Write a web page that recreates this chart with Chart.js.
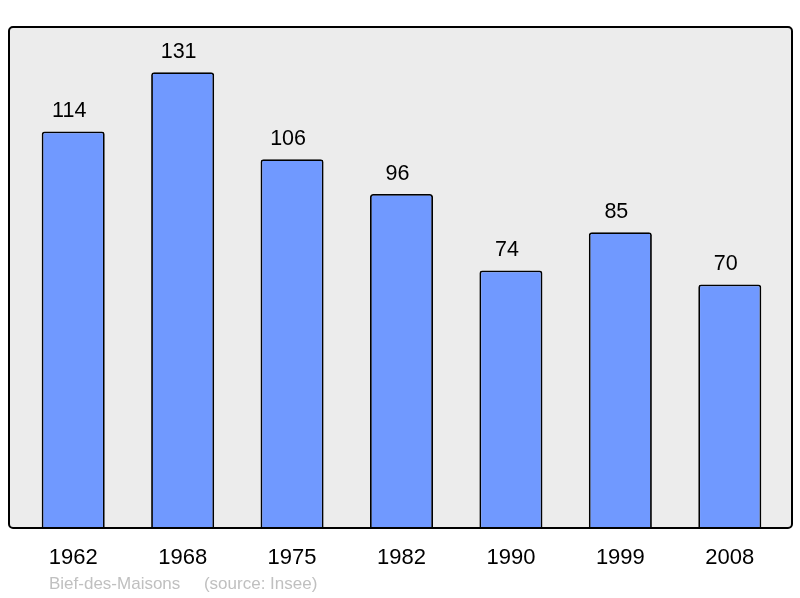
<!DOCTYPE html>
<html><head><meta charset="utf-8">
<script src="https://cdn.jsdelivr.net/npm/chart.js@4"></script>
<style>html,body{margin:0;padding:0;background:#fff}#wrap{width:800px;height:598px}</style>
</head><body><div id="wrap"><canvas id="c"></canvas></div>
<script>
const years = ["1962","1968","1975","1982","1990","1999","2008"];
const population = [114,131,106,96,74,85,70];
const footerText = "Bief-des-Maisons     (source: Insee)";

const framePlugin = {
  id:'frame',
  beforeDatasetsDraw(chart){
    const a = chart.chartArea, ctx = chart.ctx;
    ctx.save();
    ctx.beginPath();
    ctx.roundRect(9, a.top, 783, a.bottom-a.top, 4);
    ctx.fillStyle = '#ececec';
    ctx.fill();
    ctx.restore();
  },
  afterDatasetsDraw(chart){
    const a = chart.chartArea, ctx = chart.ctx;
    ctx.save();
    ctx.beginPath();
    ctx.roundRect(9, a.top, 783, a.bottom-a.top, 4);
    ctx.lineWidth = 2;
    ctx.strokeStyle = '#000';
    ctx.stroke();
    const meta = chart.getDatasetMeta(0);
    ctx.fillStyle = '#000';
    ctx.font = '21.5px "Liberation Sans", Arial, sans-serif';
    ctx.textAlign = 'center';
    ctx.textBaseline = 'middle';
    meta.data.forEach((bar,i)=>{
      ctx.fillText(String(population[i]), bar.x - 4, bar.y - 20);
    });
    ctx.fillStyle = '#c0c0c0';
    ctx.font = '17px "Liberation Sans", Arial, sans-serif';
    ctx.textAlign = 'left';
    ctx.fillText(footerText, 49, 584);
    ctx.restore();
  }
};

new Chart(document.getElementById('c'), {
  type:'bar',
  data:{labels:years, datasets:[{data:population, backgroundColor:'#7099ff', borderColor:'#000', borderWidth:1.8, borderRadius:3, borderSkipped:'bottom', categoryPercentage:1, barPercentage:0.576}]},
  options:{
    responsive:true, maintainAspectRatio:false, animation:false,
    layout:{padding:{left:18.5,right:15.5,top:27,bottom:0}},
    plugins:{legend:{display:false},tooltip:{enabled:false}},
    scales:{
      x:{grid:{display:false},border:{display:false},
         ticks:{color:'#000',font:{size:22,family:'"Liberation Sans", Arial, sans-serif'},padding:9,maxRotation:0},
         afterFit(s){s.height=70;}},
      y:{display:false,min:0,max:144}
    }
  },
  plugins:[framePlugin]
});
</script></body></html>
